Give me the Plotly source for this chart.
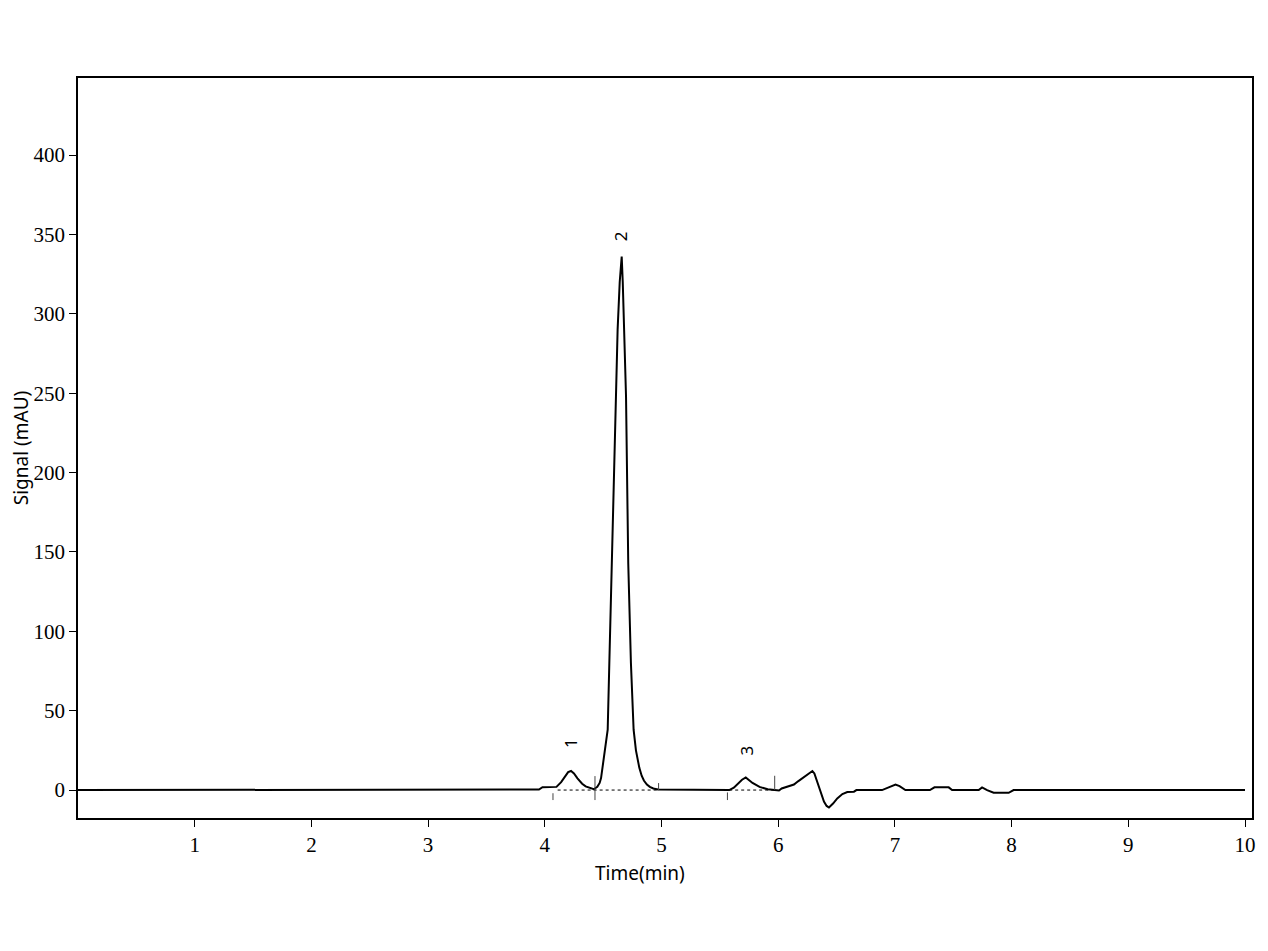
import plotly.graph_objects as go

# chromatogram trace (min, mAU)
time_min = [0, 3.95, 3.98, 4.07, 4.10, 4.14, 4.17, 4.20, 4.225, 4.25, 4.28, 4.32,
            4.35, 4.39, 4.42, 4.45, 4.47, 4.482, 4.51, 4.539, 4.553, 4.573, 4.59,
            4.624, 4.642, 4.659, 4.668, 4.681, 4.696, 4.715, 4.738, 4.761, 4.781,
            4.81, 4.83, 4.849, 4.875, 4.90, 4.93, 4.97, 5.58, 5.62, 5.65, 5.69,
            5.722, 5.75, 5.78, 5.84, 5.88, 5.91, 5.97, 6.007, 6.03, 6.08, 6.135,
            6.17, 6.21, 6.25, 6.293, 6.31, 6.33, 6.35, 6.37, 6.392, 6.415, 6.435,
            6.47, 6.506, 6.55, 6.592, 6.649, 6.67, 6.89, 6.93, 6.96, 7.005, 7.04,
            7.07, 7.09, 7.30, 7.339, 7.461, 7.49, 7.718, 7.747, 7.79, 7.846, 7.975,
            8.017, 10.0]
signal_mau = [0, 0.3, 1.8, 1.6, 2.0, 5.0, 8.4, 11.3, 12, 10.5, 7.4, 4.0,
              2.3, 1.0, 0.5, 2.0, 4.5, 7.5, 23, 38, 80, 143, 185,
              290, 320, 336, 320, 290, 248, 143, 80, 38, 25,
              14, 9, 6, 3.5, 2, 1, 0.3, 0, 1.5, 3.5, 6.5,
              8, 6.5, 4.5, 2, 1.2, 0.5, 0, -0.3, 1, 2, 3.5,
              5.5, 7.5, 10, 12, 10.5, 6, 2, -3, -7.3, -10, -11,
              -8.5, -5.3, -2.5, -1.2, -1, 0, 0, 1.3, 2.5, 3.5, 2.5,
              1, 0, 0, 1.7, 1.7, 0, 0, 1.7, 0, -1.7, -1.7,
              0, 0]

# integration baselines (start, end) at 0 mAU
baseline_start = [4.11, 5.58]
baseline_end = [4.97, 5.97]

# integration event marks: time, low, high (mAU)
event_time = [4.07, 4.43, 4.975, 5.565, 5.97]
event_low = [-6.3, -6.3, 0, -6.3, 0]
event_high = [-2, 8.8, 4.4, -1.5, 9]

# peak labels
peak_names = ["1", "2", "3"]
peak_time = [4.22, 4.655, 5.725]
peak_height = [30, 349, 25]

fig = go.Figure()

fig.add_trace(go.Scatter(x=time_min, y=signal_mau, mode="lines",
                         line=dict(color="black", width=2),
                         showlegend=False, hoverinfo="x+y"))

bx, by = [], []
for a, b in zip(baseline_start, baseline_end):
    bx += [a, b, None]
    by += [0, 0, None]
fig.add_trace(go.Scatter(x=bx, y=by, mode="lines",
                         line=dict(color="black", width=1, dash="dot"),
                         showlegend=False, hoverinfo="skip"))

ex, ey = [], []
for t, lo, hi in zip(event_time, event_low, event_high):
    ex += [t, t, None]
    ey += [lo, hi, None]
fig.add_trace(go.Scatter(x=ex, y=ey, mode="lines",
                         line=dict(color="#444444", width=1),
                         showlegend=False, hoverinfo="skip"))

for name, t, h in zip(peak_names, peak_time, peak_height):
    fig.add_annotation(x=t, y=h, text=name, textangle=-90, showarrow=False,
                       font=dict(family="Noto Sans", size=17, color="black"))

# x title sits a bit left of the plot centre in the original
fig.add_annotation(xref="paper", yref="paper", x=0.4787, y=-0.0743,
                   xanchor="center", yanchor="middle", text="Time(min)", showarrow=False,
                   font=dict(family="Noto Sans", size=19, color="black"))

fig.update_xaxes(range=[0, 10.06], tickvals=list(range(1, 11)),
                 showline=True, linecolor="black", linewidth=1.5, mirror=True,
                 ticks="outside", ticklen=7, tickcolor="black", showgrid=False, zeroline=False,
                 automargin=False,
                 tickfont=dict(family="Liberation Serif", size=21, color="black"))
fig.update_yaxes(range=[-17.6, 448.5], tickvals=list(range(0, 401, 50)),
                 showline=True, linecolor="black", linewidth=1.5, mirror=True,
                 ticks="outside", ticklen=7, tickcolor="black", showgrid=False, zeroline=False,
                 automargin=False,
                 tickfont=dict(family="Liberation Serif", size=21, color="black"),
                 title=dict(text="Signal (mAU)", standoff=8,
                            font=dict(family="Noto Sans", size=19, color="black")))

# page body adds ~8px margin, so shrink the figure to keep the frame in place
fig.update_layout(width=1260, height=943,
                  margin=dict(l=70, r=16, t=70, b=133),
                  paper_bgcolor="white", plot_bgcolor="white")

fig.write_html("out.html")
